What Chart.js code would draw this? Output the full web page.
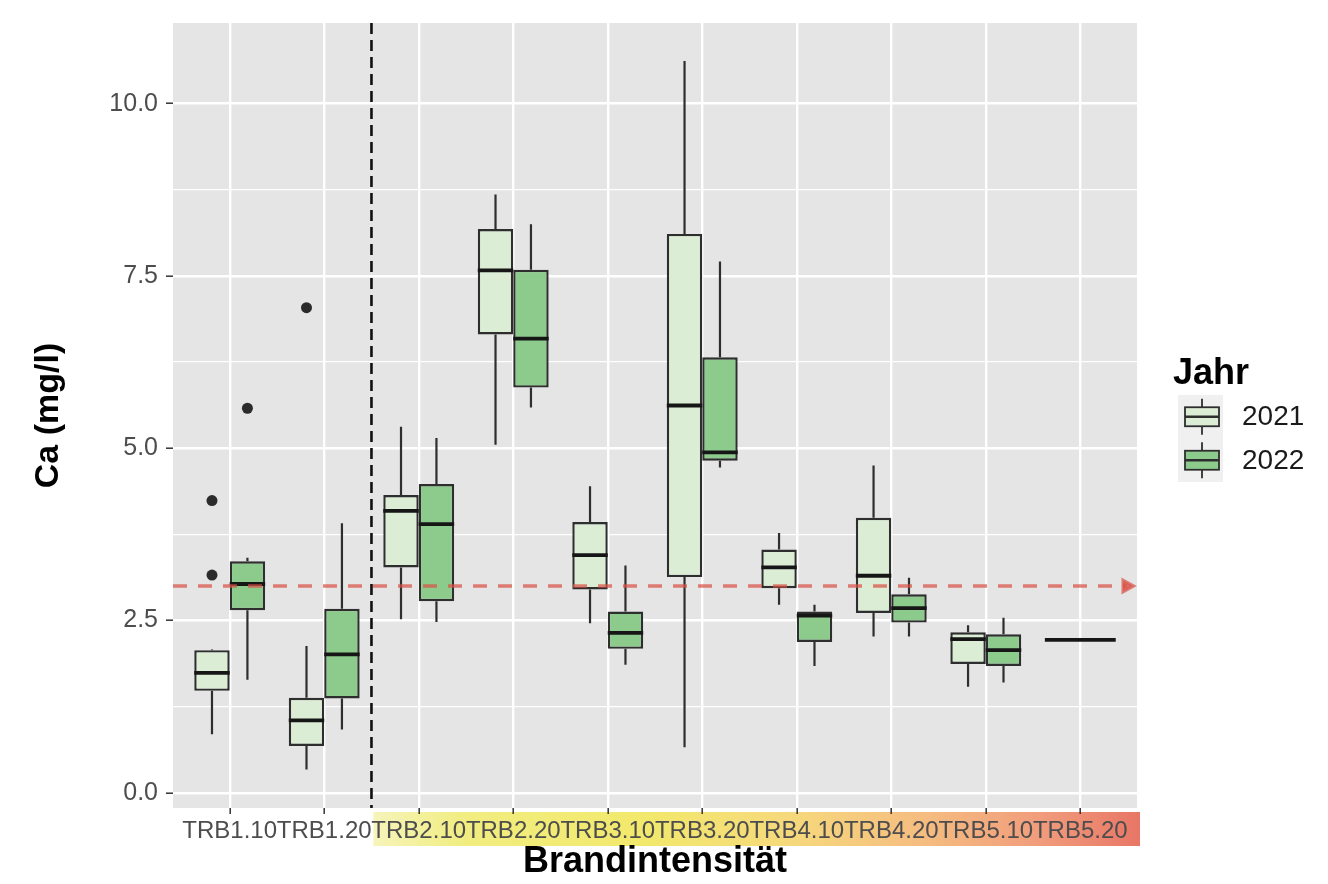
<!DOCTYPE html>
<html>
<head>
<meta charset="utf-8">
<title>Ca (mg/l) nach Brandintensität</title>
<script src="https://cdn.jsdelivr.net/npm/chart.js@4.4.1/dist/chart.umd.min.js"></script>
<style>
  html, body { margin: 0; padding: 0; background: #ffffff; }
  #chart { display: block; width: 1328px; height: 884px; }
</style>
</head>
<body>
<canvas id="chart" width="1328" height="884"></canvas>
<script>
// ---- data -------------------------------------------------------------
const categories = ['TRB1.10', 'TRB1.20', 'TRB2.10', 'TRB2.20', 'TRB3.10',
                    'TRB3.20', 'TRB4.10', 'TRB4.20', 'TRB5.10', 'TRB5.20'];
const years = ['2021', '2022'];
const yTicks = [0, 1.25, 2.5, 3.75, 5, 6.25, 7.5, 8.75, 10];
const threshold = 3.0;

// five-number summaries per site, 2021
const lower2021  = [0.85, 0.34, 2.52, 5.05, 2.46, 0.66, 2.73, 2.27, 1.54, null];
const q1_2021    = [1.48, 0.68, 3.27, 6.65, 2.95, 3.13, 2.97, 2.61, 1.87, null];
const median2021 = [1.74, 1.05, 4.09, 7.58, 3.45, 5.62, 3.27, 3.15, 2.23, null];
const q3_2021    = [2.07, 1.38, 4.32, 8.18, 3.93, 8.11, 3.53, 3.99, 2.33, null];
const upper2021  = [2.08, 2.13, 5.31, 8.68, 4.45, 10.62, 3.77, 4.75, 2.43, null];
const outliers2021 = [[3.16, 4.24], [7.04], [], [], [], [], [], [], [], []];

// five-number summaries per site, 2022
const lower2022  = [1.64, 0.92, 2.48, 5.59, 1.86, 4.72, 1.84, 2.27, 1.60, 2.22];
const q1_2022    = [2.65, 1.37, 2.78, 5.88, 2.09, 4.82, 2.19, 2.47, 1.84, 2.22];
const median2022 = [3.03, 2.01, 3.90, 6.59, 2.32, 4.94, 2.57, 2.68, 2.07, 2.22];
const q3_2022    = [3.36, 2.67, 4.48, 7.59, 2.63, 6.32, 2.63, 2.88, 2.30, 2.22];
const upper2022  = [3.41, 3.91, 5.15, 8.25, 3.30, 7.71, 2.73, 3.12, 2.54, 2.22];
const outliers2022 = [[5.58], [], [], [], [], [], [], [], [], []];

// ---- styling ----------------------------------------------------------
const FONT = '"Liberation Sans", Arial, Helvetica, sans-serif';
const fill2021 = '#dcedd6';
const fill2022 = '#8dcb8d';
const boxLine = '#2e2e2e';

const summaries = [
  { lower: lower2021, q1: q1_2021, median: median2021, q3: q3_2021, upper: upper2021, out: outliers2021 },
  { lower: lower2022, q1: q1_2022, median: median2022, q3: q3_2022, upper: upper2022, out: outliers2022 }
];

function boxData(s) {
  return categories.map((_, i) => ({
    x: i,
    y: s.q1[i] === null ? null : [s.q1[i], s.q3[i]]
  }));
}

const isMajor = v => Math.abs(v / 2.5 - Math.round(v / 2.5)) < 1e-9;

// whiskers, medians, outliers, reference lines, label strip and legend
const boxParts = {
  id: 'boxParts',
  beforeDraw(chart) {
    const { ctx, chartArea: a, scales: { x } } = chart;
    ctx.save();
    // coloured strip behind the site labels (burn intensity)
    const x0 = x.getPixelForValue(1.5) + 2, x1 = a.right + 3;
    const g = ctx.createLinearGradient(x0, 0, x1, 0);
    g.addColorStop(0.00, 'rgba(246, 244, 186, 1)');
    g.addColorStop(0.12, 'rgba(241, 237, 128, 1)');
    g.addColorStop(0.35, 'rgba(242, 233, 108, 1)');
    g.addColorStop(0.55, 'rgba(246, 216, 124, 1)');
    g.addColorStop(0.72, 'rgba(245, 188, 128, 1)');
    g.addColorStop(0.87, 'rgba(241, 156, 124, 1)');
    g.addColorStop(1.00, 'rgba(232, 118, 102, 1)');
    ctx.fillStyle = g;
    ctx.fillRect(x0, a.bottom + 4, x1 - x0, 34);
    // panel background
    ctx.fillStyle = '#e5e5e5';
    ctx.fillRect(a.left, a.top, a.right - a.left, a.bottom - a.top);
    ctx.restore();
  },
  afterDatasetsDraw(chart) {
    const { ctx, chartArea: a, scales: { x, y } } = chart;
    ctx.save();
    summaries.forEach((s, d) => {
      const meta = chart.getDatasetMeta(d);
      meta.data.forEach((el, i) => {
        if (s.q1[i] === null) return;
        const cx = el.x, hw = el.width / 2;
        // whiskers
        ctx.strokeStyle = boxLine;
        ctx.lineWidth = 2.2;
        ctx.beginPath();
        ctx.moveTo(cx, y.getPixelForValue(s.q3[i]));
        ctx.lineTo(cx, y.getPixelForValue(s.upper[i]));
        ctx.moveTo(cx, y.getPixelForValue(s.q1[i]));
        ctx.lineTo(cx, y.getPixelForValue(s.lower[i]));
        ctx.stroke();
        // median
        ctx.strokeStyle = '#161616';
        ctx.lineWidth = 3.8;
        ctx.beginPath();
        const ym = y.getPixelForValue(s.median[i]);
        ctx.moveTo(cx - hw, ym);
        ctx.lineTo(cx + hw, ym);
        ctx.stroke();
        // outliers
        ctx.fillStyle = '#2b2b2b';
        s.out[i].forEach(v => {
          ctx.beginPath();
          ctx.arc(cx, y.getPixelForValue(v), 5.5, 0, Math.PI * 2);
          ctx.fill();
        });
      });
    });

    // threshold line with arrow head
    const yT = y.getPixelForValue(threshold);
    const xs = a.left, xe = x.getPixelForValue(9.56);
    ctx.strokeStyle = 'rgba(218, 82, 70, 0.72)';
    ctx.fillStyle = 'rgba(218, 82, 70, 0.72)';
    ctx.lineWidth = 3.5;
    ctx.setLineDash([14, 11]);
    ctx.beginPath();
    ctx.moveTo(xs, yT);
    ctx.lineTo(xe - 6, yT);
    ctx.stroke();
    ctx.setLineDash([]);
    ctx.lineJoin = 'miter';
    ctx.beginPath();
    ctx.moveTo(xe - 10, yT - 5.5);
    ctx.lineTo(xe, yT);
    ctx.lineTo(xe - 10, yT + 5.5);
    ctx.closePath();
    ctx.fill();
    ctx.stroke();

    // separator between the TRB1 sites and the rest
    const xv = x.getPixelForValue(1.5);
    ctx.strokeStyle = '#111111';
    ctx.lineWidth = 2.6;
    ctx.setLineDash([11, 6]);
    ctx.beginPath();
    ctx.moveTo(xv, a.top);
    ctx.lineTo(xv, a.bottom);
    ctx.stroke();
    ctx.setLineDash([]);
    ctx.restore();
  },
  afterDraw(chart) {
    const { ctx } = chart;
    ctx.save();
    const lx = 1173;
    ctx.fillStyle = '#000000';
    ctx.font = `bold 36px ${FONT}`;
    ctx.textBaseline = 'alphabetic';
    ctx.textAlign = 'left';
    ctx.fillText('Jahr', lx, 384);
    const keyTop = 395, keyH = 43.5, keyX = 1178, keyW = 45;
    ctx.fillStyle = '#f0f0f0';
    ctx.fillRect(keyX, keyTop, keyW, keyH * chart.data.datasets.length);
    chart.data.datasets.forEach((ds, k) => {
      const cy = keyTop + keyH * k + keyH / 2;
      const bx = keyX + 7, bw = keyW - 11;
      ctx.strokeStyle = boxLine;
      ctx.lineWidth = 1.8;
      ctx.beginPath();
      ctx.moveTo(bx + bw / 2, cy - 18);
      ctx.lineTo(bx + bw / 2, cy + 18);
      ctx.stroke();
      ctx.fillStyle = ds.backgroundColor;
      ctx.fillRect(bx, cy - 9.5, bw, 19);
      ctx.strokeRect(bx, cy - 9.5, bw, 19);
      ctx.lineWidth = 2.6;
      ctx.beginPath();
      ctx.moveTo(bx, cy);
      ctx.lineTo(bx + bw, cy);
      ctx.stroke();
      ctx.fillStyle = '#1a1a1a';
      ctx.font = `28px ${FONT}`;
      ctx.textBaseline = 'middle';
      ctx.fillText(ds.label, 1242, cy + 1);
    });
    ctx.restore();
  }
};

const datasets = summaries.map((s, d) => ({
  label: years[d],
  data: boxData(s),
  backgroundColor: d === 0 ? fill2021 : fill2022,
  borderColor: boxLine,
  borderWidth: 2.4,
  borderSkipped: false,
  categoryPercentage: 0.75,
  barPercentage: 1.0,
  skipNull: true
}));

new Chart(document.getElementById('chart'), {
  type: 'bar',
  data: { datasets },
  plugins: [boxParts],
  options: {
    responsive: false,
    devicePixelRatio: 1,
    animation: false,
    layout: { padding: { left: 20, right: 191, top: 22, bottom: 0 } },
    plugins: { legend: { display: false }, tooltip: { enabled: false } },
    scales: {
      x: {
        type: 'linear',
        min: -0.6,
        max: 9.6,
        offset: false,
        afterBuildTicks: s => { s.ticks = categories.map((_, i) => ({ value: i })); },
        afterFit: s => { s.height = 76; },
        border: { display: false },
        grid: {
          offset: false,
          color: '#ffffff',
          lineWidth: 2.4,
          tickColor: '#333333',
          tickWidth: 1.5,
          tickLength: 6
        },
        ticks: {
          autoSkip: false,
          maxRotation: 0,
          minRotation: 0,
          padding: 3,
          color: '#4d4d4d',
          font: { family: FONT, size: 24 },
          callback: v => categories[v]
        },
        title: {
          display: true,
          text: 'Brandintensität',
          color: '#000000',
          font: { family: FONT, size: 36, weight: 'bold' },
          padding: { top: 0, bottom: 0 }
        }
      },
      y: {
        type: 'linear',
        min: -0.22,
        max: 11.17,
        afterBuildTicks: s => { s.ticks = yTicks.map(v => ({ value: v })); },
        afterFit: s => { s.width = 153; },
        border: { display: false },
        grid: {
          color: '#ffffff',
          lineWidth: c => (c.tick && isMajor(c.tick.value) ? 2.4 : 1.2),
          tickColor: c => (c.tick && isMajor(c.tick.value) ? '#333333' : 'rgba(0,0,0,0)'),
          tickWidth: 1.5,
          tickLength: 7
        },
        ticks: {
          padding: 8,
          color: '#4d4d4d',
          font: { family: FONT, size: 25 },
          callback: v => (isMajor(v) ? v.toFixed(1) : '')
        },
        title: {
          display: true,
          text: 'Ca (mg/l)',
          color: '#000000',
          font: { family: FONT, size: 34, weight: 'bold' },
          padding: { top: 8, bottom: 0 }
        }
      }
    }
  }
});
</script>
</body>
</html>
